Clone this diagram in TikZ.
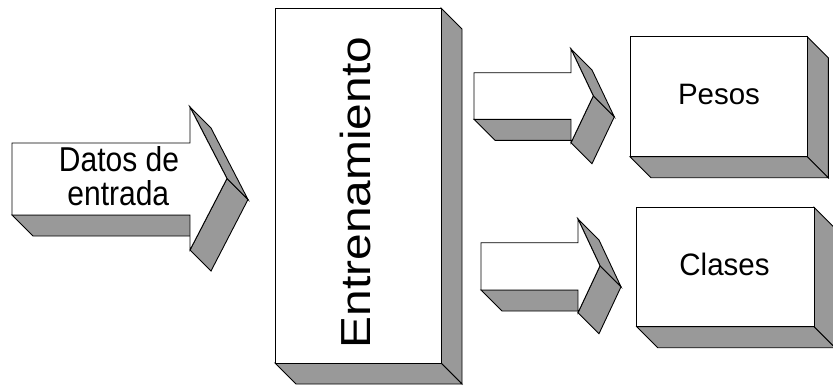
\documentclass[tikz,border=0pt]{standalone}
\usepackage{fontspec}
\setmainfont{Liberation Sans}
\definecolor{shadegray}{gray}{0.6}
\tikzset{
  frontface/.style={fill=white, draw=black, line width=0.9pt, line join=miter},
  sideface/.style={fill=shadegray, draw=black, line width=0.9pt, line join=miter},
  boxtext/.style={inner sep=0pt, anchor=base, font=\fontsize{29.5}{33}\selectfont},
}
% extrusion depth of every solid (down and to the right)
\def\dep{21}
% \slab{x1}{y1}{x2}{y2}: extruded block whose front face spans (x1,y1)-(x2,y2)
\newcommand\slab[4]{%
  \draw[sideface] (#3,#2) -- ({#3+\dep},{#2+\dep}) -- ({#3+\dep},{#4+\dep}) -- (#3,#4) -- cycle;
  \draw[sideface] (#1,#4) -- (#3,#4) -- ({#3+\dep},{#4+\dep}) -- ({#1+\dep},{#4+\dep}) -- cycle;
  \draw[frontface] (#1,#2) rectangle (#3,#4);
}
% \blockarrow{x0}{body top}{body bottom}{head base x}{head top}{head bottom}{tip x}
\newcommand\blockarrow[7]{%
  \draw[sideface] (#1,#3) -- (#4,#3) -- ({#4+\dep},{#3+\dep}) -- ({#1+\dep},{#3+\dep}) -- cycle;
  \draw[sideface] (#7,{(#5+#6)/2}) -- (#4,#6) -- ({#4+\dep},{#6+\dep}) -- ({#7+\dep},{(#5+#6)/2+\dep}) -- cycle;
  \draw[sideface] (#4,#5) -- (#7,{(#5+#6)/2}) -- ({#7+\dep},{(#5+#6)/2+\dep}) -- ({#4+\dep},{#5+\dep}) -- cycle;
  \draw[frontface] (#1,#2) -- (#4,#2) -- (#4,#5) -- (#7,{(#5+#6)/2}) -- (#4,#6) -- (#4,#3) -- (#1,#3) -- cycle;
}
\begin{document}
\begin{tikzpicture}[x=1pt, y=-1pt]
  \useasboundingbox (0,0) rectangle (833,388);
  \clip (0,0) rectangle (833,388);

  % input arrow
  \blockarrow{12}{143}{215}{190}{107}{250}{227}
  \node[boxtext, font=\fontsize{30}{33}\selectfont] (datos) at (119,171.7) {\scalebox{1}[1.15]{Datos de}};
  \node[boxtext, font=\fontsize{30}{33}\selectfont] (entrada) at (118.3,205) {\scalebox{1}[1.15]{entrada}};

  % training block
  \slab{275}{8}{441}{363}
  \node[boxtext, font=\fontsize{42}{46}\selectfont, rotate=90] (entrenamiento) at (370,192.5) {\scalebox{1.14}[1]{Entrenamiento}};

  % output arrows
  \blockarrow{474}{72.7}{119.3}{571}{49}{142.7}{593.3}
  \blockarrow{481}{242.7}{290}{578}{219}{312.7}{600}

  % outputs
  \slab{630}{36.7}{807.3}{156.7}
  \node[boxtext] (pesos) at (719,104.3) {Pesos};
  \slab{636.7}{207.3}{814}{326.7}
  \node[boxtext] (clases) at (724.5,275.5) {\scalebox{1}[1.05]{Clases}};
\end{tikzpicture}
\end{document}
